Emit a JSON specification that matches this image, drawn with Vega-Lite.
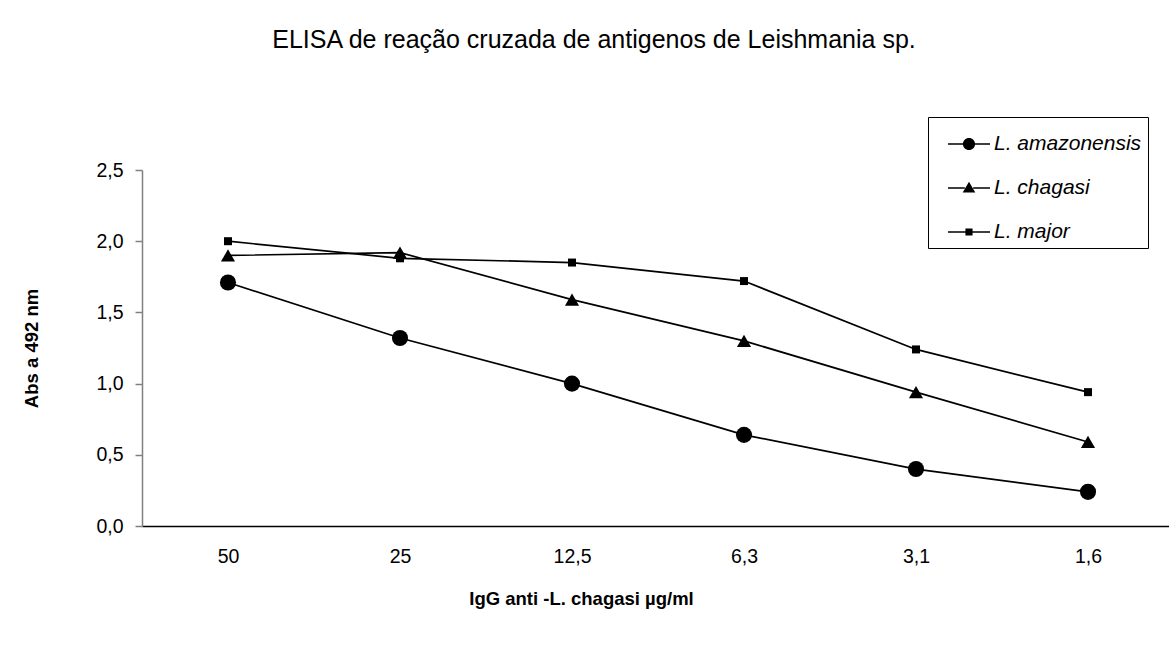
{
  "$schema": "https://vega.github.io/schema/vega-lite/v6.json",
  "autosize": "none",
  "width": 1032,
  "height": 356,
  "padding": {"left": 142, "top": 170, "right": 0, "bottom": 133},
  "background": "white",
  "title": {
    "text": "ELISA de reação cruzada de antigenos de Leishmania sp.",
    "font": "Liberation Sans",
    "fontSize": 25,
    "fontWeight": "normal",
    "color": "black",
    "anchor": "middle",
    "frame": "group",
    "dx": -64,
    "offset": 64
  },
  "config": {
    "view": {"stroke": null},
    "font": "Liberation Sans"
  },
  "data": {
    "values": [
      {"conc": "50", "species": "L. amazonensis", "abs": 1.71},
      {"conc": "25", "species": "L. amazonensis", "abs": 1.32},
      {"conc": "12,5", "species": "L. amazonensis", "abs": 1.00},
      {"conc": "6,3", "species": "L. amazonensis", "abs": 0.64},
      {"conc": "3,1", "species": "L. amazonensis", "abs": 0.40},
      {"conc": "1,6", "species": "L. amazonensis", "abs": 0.24},
      {"conc": "50", "species": "L. chagasi", "abs": 1.90},
      {"conc": "25", "species": "L. chagasi", "abs": 1.92},
      {"conc": "12,5", "species": "L. chagasi", "abs": 1.59},
      {"conc": "6,3", "species": "L. chagasi", "abs": 1.30},
      {"conc": "3,1", "species": "L. chagasi", "abs": 0.94},
      {"conc": "1,6", "species": "L. chagasi", "abs": 0.59},
      {"conc": "50", "species": "L. major", "abs": 2.00},
      {"conc": "25", "species": "L. major", "abs": 1.88},
      {"conc": "12,5", "species": "L. major", "abs": 1.85},
      {"conc": "6,3", "species": "L. major", "abs": 1.72},
      {"conc": "3,1", "species": "L. major", "abs": 1.24},
      {"conc": "1,6", "species": "L. major", "abs": 0.94}
    ]
  },
  "encoding": {
    "x": {
      "field": "conc",
      "type": "ordinal",
      "sort": ["50", "25", "12,5", "6,3", "3,1", "1,6"],
      "scale": {"type": "point", "padding": 0.5},
      "axis": {
        "title": "IgG anti -L. chagasi µg/ml",
        "titleFont": "Liberation Sans",
        "titleFontSize": 18.5,
        "titleFontWeight": "bold",
        "titleColor": "black",
        "titlePadding": 24,
        "titleX": 439,
        "labelAngle": 0,
        "labelFont": "Liberation Sans",
        "labelFontSize": 19.5,
        "labelColor": "black",
        "labelPadding": 21,
        "ticks": false,
        "domainColor": "black",
        "domainWidth": 1.5,
        "grid": false
      }
    },
    "y": {
      "field": "abs",
      "type": "quantitative",
      "scale": {"domain": [0, 2.5], "nice": false, "zero": true},
      "axis": {
        "title": "Abs a 492 nm",
        "titleFont": "Liberation Sans",
        "titleFontSize": 18.5,
        "titleFontWeight": "bold",
        "titleColor": "black",
        "titlePadding": 54,
        "values": [0, 0.5, 1, 1.5, 2, 2.5],
        "labelExpr": "replace(format(datum.value, '.1f'), '.', ',')",
        "labelFont": "Liberation Sans",
        "labelFontSize": 19.5,
        "labelColor": "black",
        "labelPadding": 12,
        "tickSize": 7,
        "tickColor": "#808080",
        "tickWidth": 1.5,
        "domainColor": "#808080",
        "domainWidth": 1.5,
        "grid": false
      }
    }
  },
  "layer": [
    {
      "mark": {"type": "line", "color": "black", "strokeWidth": 1.7},
      "encoding": {"detail": {"field": "species"}}
    },
    {
      "transform": [{"filter": "datum.species === 'L. amazonensis'"}],
      "mark": {"type": "point", "filled": true, "color": "black", "opacity": 1, "shape": "circle", "size": 260}
    },
    {
      "transform": [{"filter": "datum.species === 'L. chagasi'"}],
      "mark": {"type": "point", "filled": true, "color": "black", "opacity": 1, "shape": "triangle-up", "size": 200}
    },
    {
      "transform": [{"filter": "datum.species === 'L. major'"}],
      "mark": {"type": "point", "filled": true, "color": "black", "opacity": 1, "shape": "square", "size": 64}
    },
    {
      "mark": {"type": "point", "filled": true, "color": "black", "opacity": 0},
      "encoding": {
        "shape": {
          "field": "species",
          "type": "nominal",
          "scale": {
            "domain": ["L. amazonensis", "L. chagasi", "L. major"],
            "range": [
              "M-1,-0.035H-0.28V0.035H-1Z M0.28,-0.035H1V0.035H0.28Z M-0.29,0A0.29,0.29 0 1,1 0.29,0A0.29,0.29 0 1,1 -0.29,0Z",
              "M-1,-0.035H-0.2V0.035H-1Z M0.2,-0.035H1V0.035H0.2Z M0,-0.3L0.3,0.22H-0.3Z",
              "M-1,-0.035H-0.17V0.035H-1Z M0.17,-0.035H1V0.035H0.17Z M-0.17,-0.17H0.17V0.17H-0.17Z"
            ]
          },
          "legend": {
            "title": null,
            "orient": "none",
            "legendX": 786,
            "legendY": -53,
            "direction": "vertical",
            "fillColor": "white",
            "strokeColor": "black",
            "padding": 6,
            "rowPadding": 13,
            "symbolSize": 1764,
            "symbolOffset": 14,
            "symbolFillColor": "black",
            "symbolStrokeColor": "black",
            "symbolStrokeWidth": 0,
            "symbolOpacity": 1,
            "labelOffset": 4,
            "labelFont": "Liberation Sans",
            "labelFontSize": 21,
            "labelFontStyle": "italic",
            "labelColor": "black",
            "labelLimit": 400,
            "labelExpr": "datum.label + '\u00a0\u00a0\u00a0\u00a0\u00a0\u00a0\u00a0'",
            "encode": {
              "legend": {
                "update": {"strokeWidth": {"value": 3}}
              },
              "symbols": {
                "update": {
                  "opacity": {"value": 1}
                }
              }
            }
          }
        }
      }
    }
  ]
}
